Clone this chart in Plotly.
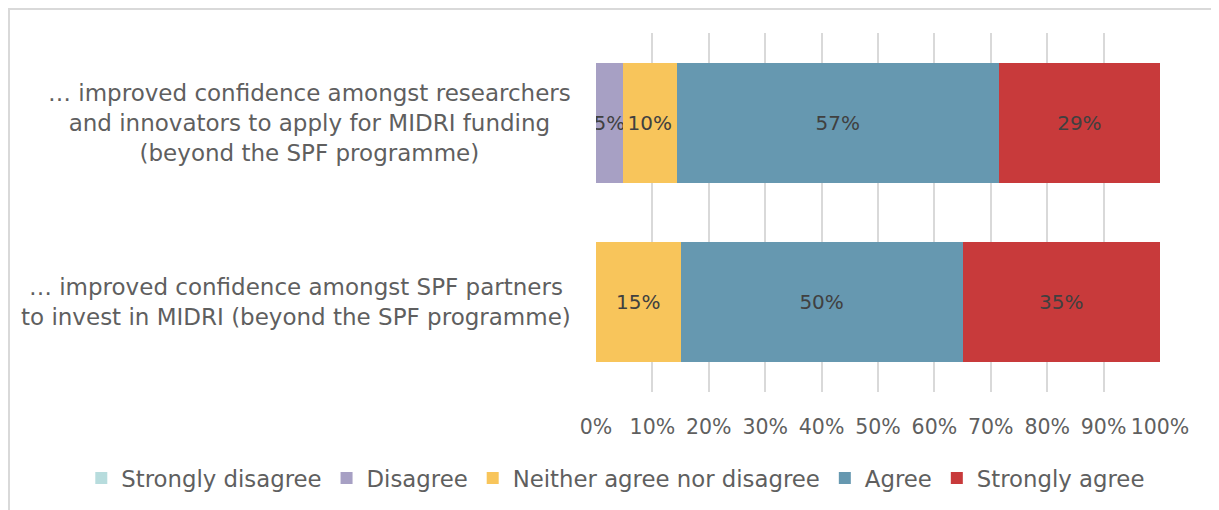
import plotly.graph_objects as go

categories = [
    "… improved confidence amongst researchers<br>and innovators to apply for MIDRI funding<br>(beyond the SPF programme)",
    "… improved confidence amongst SPF partners<br>to invest in MIDRI (beyond the SPF programme)",
]
series_names = ["Strongly disagree", "Disagree", "Neither agree nor disagree", "Agree", "Strongly agree"]
strongly_disagree = [0, 0]
disagree = [4.76, 0]
neither = [9.52, 15]
agree = [57.14, 50]
strongly_agree = [28.57, 35]
colors = ["#B7DCDD", "#A7A0C4", "#F8C55B", "#6698B0", "#C83A3B"]
tick_vals = [0, 10, 20, 30, 40, 50, 60, 70, 80, 90, 100]
tick_text = [f"{v}%" for v in tick_vals]

FONT = "DejaVu Sans"
fig = go.Figure()
for name, vals, col in zip(series_names,
                           [strongly_disagree, disagree, neither, agree, strongly_agree],
                           colors):
    fig.add_trace(go.Bar(
        y=list(range(len(categories))), x=vals, name=name, orientation="h",
        marker=dict(color=col, line=dict(width=0)),
        text=[f"{v:.0f}%" if v > 0 else "" for v in vals],
        textposition="inside", insidetextanchor="middle", constraintext="none",
        textangle=0,
        textfont=dict(color="#404040", size=20, family=FONT),
        hoverinfo="skip",
    ))

for i, c in enumerate(categories):
    fig.add_annotation(x=-0.04, xref="paper", y=i, yref="y", text=c,
                       showarrow=False, xanchor="right", yanchor="middle", align="center",
                       font=dict(size=23, color="#5f5f5f", family=FONT))

fig.add_shape(type="rect", xref="paper", yref="paper",
              x0=-1.0408, x1=1.0957, y0=-0.4, y1=1.0669,
              line=dict(color="#D9D9D9", width=2), fillcolor="rgba(0,0,0,0)", layer="below")

fig.update_layout(
    width=1211, height=502,
    barmode="stack", bargap=0.33,
    margin=dict(l=588, r=59, t=25, b=118, autoexpand=False),
    paper_bgcolor="white", plot_bgcolor="white",
    font=dict(family=FONT, color="#5f5f5f"),
    uniformtext=dict(minsize=20, mode="show"),
    showlegend=True,
    legend=dict(orientation="h", x=-0.9126, xanchor="left",
                y=-0.24, yanchor="middle",
                font=dict(size=22.8, color="#5f5f5f", family=FONT), traceorder="normal",
                itemwidth=30, tracegroupgap=0),
    xaxis=dict(range=[0, 100], tickvals=tick_vals, ticktext=tick_text,
               showgrid=True, gridcolor="#D9D9D9", gridwidth=2, zeroline=False,
               showline=False, ticks="", ticklabelstandoff=20,
               tickfont=dict(size=20.5, color="#5f5f5f", family=FONT), fixedrange=True),
    yaxis=dict(range=[1.5, -0.5], showticklabels=False, showgrid=False,
               zeroline=False, showline=False, fixedrange=True),
)

fig.write_html("out.html")
